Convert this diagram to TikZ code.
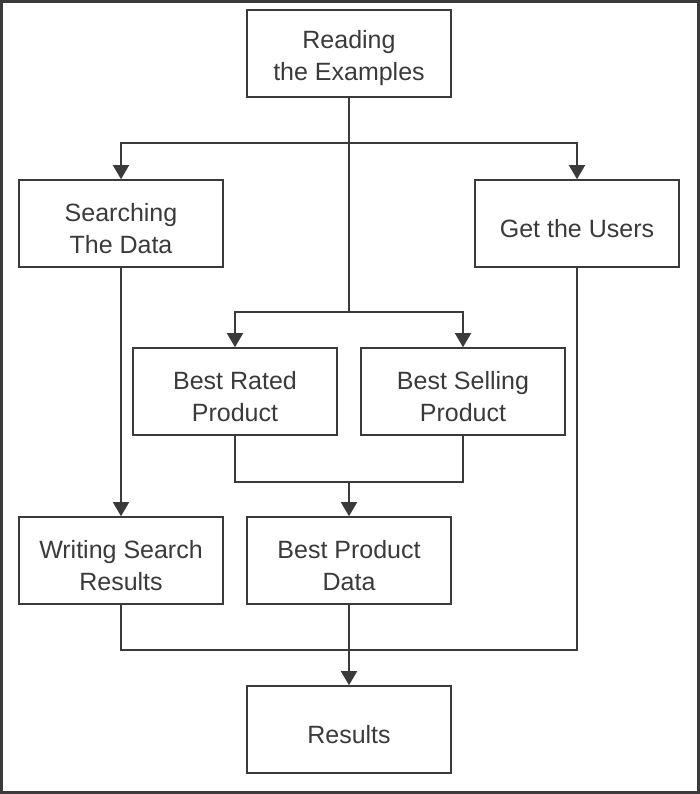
\documentclass[tikz,border=0pt]{standalone}
\usepackage{fontspec}
\setmainfont{Liberation Sans}
\usetikzlibrary{arrows.meta}
\definecolor{ink}{HTML}{3A3A3A}
\begin{document}
\begin{tikzpicture}[x=1pt,y=-1pt,
  box/.style={draw=ink,line width=1.6pt,minimum width=204pt,minimum height=87pt,
    inner sep=0pt,
    label={[align=center,text=ink,font=\fontsize{25}{32}\selectfont,yshift=-5pt]center:{#1}}},
  conn/.style={draw=ink,line width=1.5pt},
  arr/.style={conn,-{Triangle[length=14pt,width=16pt]}}]
\useasboundingbox (0,0) rectangle (700,794);
\draw[ink,line width=3pt] (1.5,1.5) rectangle (698.5,792.5);
\node[box={Reading\\the Examples}] (read) at (349,53.5) {};
\node[box={Searching\\The Data}] (search) at (121,223.5) {};
\node[box={Get the Users}] (users) at (577,223.5) {};
\node[box={Best Rated\\Product}] (rated) at (235,391.5) {};
\node[box={Best Selling\\Product}] (selling) at (463,391.5) {};
\node[box={Writing Search\\Results}] (write) at (121,560.5) {};
\node[box={Best Product\\Data}] (bpd) at (349,560.5) {};
\node[box={Results}] (res) at (349,729.5) {};
\coordinate (j1) at (349,143);
\coordinate (j2) at (349,312);
\coordinate (j3) at (349,482);
\coordinate (j4) at (349,650);
\draw[conn] (read.south) -- (j2);
\draw[arr] (j1) -| (search.north);
\draw[arr] (j1) -| (users.north);
\draw[arr] (j2) -| (rated.north);
\draw[arr] (j2) -| (selling.north);
\draw[arr] (search.south) -- (write.north);
\draw[conn] (rated.south) |- (j3) -| (selling.south);
\draw[arr] (j3) -- (bpd.north);
\draw[conn] (write.south) |- (j4) -| (users.south);
\draw[arr] (bpd.south) -- (res.north);
\end{tikzpicture}
\end{document}
